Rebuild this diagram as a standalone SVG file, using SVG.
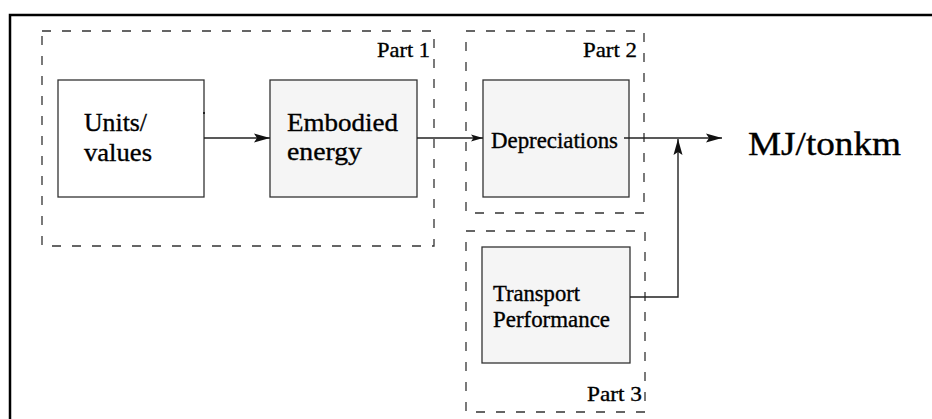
<svg xmlns="http://www.w3.org/2000/svg" width="932" height="419" viewBox="0 0 932 419">
<style>
  .frame{fill:none;stroke:#000;stroke-width:2.5}
  .part{fill:none;stroke:#333;stroke-width:1.3;stroke-dasharray:9 11}
  .box{stroke:#333;stroke-width:1.3}
  .white{fill:#fff}
  .grey{fill:#f5f5f5}
  .conn{fill:none;stroke:#222;stroke-width:1.4}
  .big{font-size:26px}
  .mid{font-size:22.5px}
  .lbl{font-size:22px}
  .out{font-size:33px}
</style>
<defs>
  <marker id="ah" markerUnits="userSpaceOnUse" markerWidth="18" markerHeight="12" refX="16" refY="6" orient="auto">
    <path d="M0,1.5 L16,6 L0,10.5 L3,6 Z" fill="#111"/>
  </marker>
  <marker id="ahs" markerUnits="userSpaceOnUse" markerWidth="13" markerHeight="10" refX="12" refY="5" orient="auto">
    <path d="M0,1.5 L12,5 L0,8.5 L2.5,5 Z" fill="#111"/>
  </marker>
</defs>
<rect width="932" height="419" fill="#fff"/>
<path class="frame" d="M10,419 V15 H932"/>

<g font-family="Liberation Serif, Times New Roman, DejaVu Serif, serif" fill="#000" stroke="#000" stroke-width="0.35">
<g id="part1">
  <rect class="part" x="42" y="31" width="392" height="215"/>
  <text class="lbl" x="377" y="57" textLength="53" lengthAdjust="spacingAndGlyphs">Part 1</text>
</g>
<g id="part2">
  <rect class="part" x="466" y="31" width="178" height="182"/>
  <text class="lbl" x="583" y="57" textLength="54" lengthAdjust="spacingAndGlyphs">Part 2</text>
</g>
<g id="part3">
  <rect class="part" x="466" y="231" width="179" height="181"/>
  <text class="lbl" x="587" y="401" textLength="55" lengthAdjust="spacingAndGlyphs">Part 3</text>
</g>

<g id="units">
  <rect class="box white" x="58" y="80" width="146" height="117"/>
  <text class="big" x="84" y="131" textLength="63" lengthAdjust="spacingAndGlyphs">Units/</text>
  <text class="big" x="84" y="161" textLength="68" lengthAdjust="spacingAndGlyphs">values</text>
</g>
<g id="embodied">
  <rect class="box grey" x="270" y="80" width="147" height="117"/>
  <text class="big" x="287" y="131" textLength="111" lengthAdjust="spacingAndGlyphs">Embodied</text>
  <text class="big" x="287" y="160" textLength="75" lengthAdjust="spacingAndGlyphs">energy</text>
</g>
<g id="depreciations">
  <rect class="box grey" x="483" y="80" width="146" height="117"/>
  <text class="mid" x="491" y="148" textLength="127" lengthAdjust="spacingAndGlyphs">Depreciations</text>
</g>
<g id="transport">
  <rect class="box grey" x="482" y="247" width="148" height="116"/>
  <text class="mid" x="493" y="301" textLength="87" lengthAdjust="spacingAndGlyphs">Transport</text>
  <text class="mid" x="493" y="327" textLength="117" lengthAdjust="spacingAndGlyphs">Performance</text>
</g>
<g id="output">
  <text class="out" x="748" y="155" textLength="153" lengthAdjust="spacingAndGlyphs">MJ/tonkm</text>
</g>
</g>

<g id="connectors">
  <rect x="203" y="112" width="2" height="2" fill="#222"/>
  <line class="conn" x1="204" y1="138" x2="270" y2="138" marker-end="url(#ah)"/>
  <line class="conn" x1="417" y1="138" x2="483" y2="138" marker-end="url(#ahs)"/>
  <line class="conn" x1="624" y1="138" x2="722" y2="138" marker-end="url(#ah)"/>
  <polyline class="conn" points="630,297 678,297 678,139" marker-end="url(#ah)"/>
</g>
</svg>
